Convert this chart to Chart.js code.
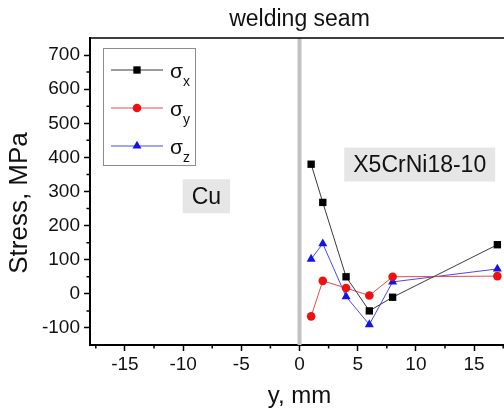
<!DOCTYPE html>
<html>
<head>
<meta charset="utf-8">
<script src="https://cdn.jsdelivr.net/npm/chart.js@4.4.0/dist/chart.umd.min.js"></script>
<style>
html, body { margin: 0; padding: 0; overflow: hidden; background: #fff; }
#wrap { width: 504px; height: 412px; overflow: hidden; }
canvas { display: block; }
</style>
</head>
<body>
<div id="wrap"><canvas id="chart" width="520" height="412"></canvas></div>
<script>
// Measured stresses (MPa) against distance from the seam (mm)
const positions = [1, 2, 4, 6, 8, 17];
const sigmaX = [380, 268, 50, -50, -10, 144];
const sigmaY = [-66, 38, 17, -5, 50, 52];
const sigmaZ = [102, 147, -8, -90, 35, 73];
const subscripts = ['x', 'y', 'z'];

// Axis ticks
const xTicks = [-15, -10, -5, 0, 5, 10, 15];
const xMinor = [-17.5, -12.5, -7.5, -2.5, 2.5, 7.5, 12.5, 17.5];
const yTicks = [-100, 0, 100, 200, 300, 400, 500, 600, 700];
const yMinor = [-50, 50, 150, 250, 350, 450, 550, 650];

// Text boxes (data coordinates)
const notes = [
    { text: 'Cu', x: -8, y: 286 },
    { text: 'X5CrNi18-10', x: 10.33, y: 379 }
];

const FONT = 'Arial, "Liberation Sans", sans-serif';

const styles = [
    { point: '#000', line: '#3a3a3a', shape: 'rect', r: 5.2 },
    { point: '#ee1111', line: '#e84848', shape: 'circle', r: 4.3 },
    { point: '#1414e6', line: '#4a4af0', shape: 'triangle', r: 5.2 }
];

const toPoints = vals => positions.map((p, i) => ({ x: p, y: vals[i] }));

const datasets = [sigmaX, sigmaY, sigmaZ].map((vals, i) => ({
    label: 'σ' + subscripts[i],
    data: toPoints(vals),
    borderColor: styles[i].line,
    borderWidth: 1,
    backgroundColor: styles[i].point,
    pointBackgroundColor: styles[i].point,
    pointBorderColor: styles[i].point,
    pointBorderWidth: 0,
    pointStyle: styles[i].shape,
    pointRadius: styles[i].r,
    tension: 0,
    order: 1
}));

// grey line marking the welding seam
datasets.push({
    label: 'seam',
    data: [{ x: 0, y: -150 }, { x: 0, y: 750 }],
    borderColor: '#c2c2c2',
    borderWidth: 4,
    pointRadius: 0,
    order: 5
});

const decor = {
    id: 'decor',
    beforeDatasetsDraw(chart) {
        const ctx = chart.ctx;
        const xs = chart.scales.x, ys = chart.scales.y;
        ctx.save();
        ctx.font = '23px ' + FONT;
        ctx.textAlign = 'center';
        ctx.textBaseline = 'middle';
        notes.forEach(n => {
            const px = xs.getPixelForValue(n.x);
            const py = ys.getPixelForValue(n.y);
            const w = ctx.measureText(n.text).width + 18;
            ctx.fillStyle = '#e6e6e6';
            ctx.fillRect(px - w / 2, py - 17, w, 34);
            ctx.fillStyle = '#111';
            ctx.fillText(n.text, px, py + 1);
        });
        ctx.restore();
    },
    afterDraw(chart) {
        const ctx = chart.ctx;
        const area = chart.chartArea;
        const xs = chart.scales.x, ys = chart.scales.y;
        ctx.save();

        // top frame line
        ctx.strokeStyle = '#000';
        ctx.lineWidth = 1.6;
        ctx.beginPath();
        ctx.moveTo(area.left, area.top);
        ctx.lineTo(area.right, area.top);
        ctx.stroke();

        // minor ticks
        ctx.lineWidth = 1.5;
        ctx.beginPath();
        xMinor.forEach(v => {
            const px = xs.getPixelForValue(v);
            ctx.moveTo(px, area.bottom);
            ctx.lineTo(px, area.bottom + 3.5);
        });
        yMinor.forEach(v => {
            const py = ys.getPixelForValue(v);
            ctx.moveTo(area.left, py);
            ctx.lineTo(area.left - 3.5, py);
        });
        ctx.stroke();

        // title above the seam
        ctx.fillStyle = '#111';
        ctx.font = '23px ' + FONT;
        ctx.textAlign = 'center';
        ctx.textBaseline = 'middle';
        ctx.fillText('welding seam', xs.getPixelForValue(0), 20);

        // y axis title (sits a little below the plot centre in the original)
        ctx.save();
        ctx.translate(20, 203);
        ctx.rotate(-Math.PI / 2);
        ctx.font = '26px ' + FONT;
        ctx.fillText('Stress, MPa', 0, 0);
        ctx.restore();

        // legend
        const lx = area.left + 13, ly = area.top + 10;
        ctx.strokeStyle = '#8c8c8c';
        ctx.lineWidth = 1;
        ctx.strokeRect(lx + 0.5, ly + 0.5, 92, 117);
        subscripts.forEach((s, i) => {
            const ds = chart.data.datasets[i];
            const cy = ly + 22 + i * 38;
            ctx.strokeStyle = ds.borderColor;
            ctx.lineWidth = 1;
            ctx.beginPath();
            ctx.moveTo(lx + 8, cy);
            ctx.lineTo(lx + 60, cy);
            ctx.stroke();
            ctx.fillStyle = ds.pointBackgroundColor;
            Chart.helpers.drawPoint(ctx, {
                pointStyle: ds.pointStyle, radius: ds.pointRadius, rotation: 0, borderWidth: 0
            }, lx + 34, cy);
            ctx.fillStyle = '#111';
            ctx.textAlign = 'left';
            ctx.textBaseline = 'alphabetic';
            ctx.font = '21px ' + FONT;
            ctx.fillText('σ', lx + 67, cy + 8);
            ctx.font = '14px ' + FONT;
            ctx.fillText(s, lx + 80, cy + 16);
        });
        ctx.restore();
    }
};

new Chart(document.getElementById('chart'), {
    type: 'line',
    data: { datasets },
    options: {
        responsive: false,
        animation: false,
        layout: { padding: { top: 38, right: 11, left: 0, bottom: 0 } },
        plugins: { legend: { display: false }, tooltip: { enabled: false } },
        scales: {
            x: {
                type: 'linear',
                min: -18,
                max: 18,
                afterBuildTicks: s => { s.ticks = xTicks.map(v => ({ value: v })); },
                afterFit: s => { s.height = 67; },
                grid: { drawOnChartArea: false, tickLength: 6, tickWidth: 1.5, tickColor: '#000' },
                border: { color: '#000', width: 2 },
                ticks: { color: '#111', font: { size: 19, family: FONT }, padding: 2, maxRotation: 0, autoSkip: false },
                title: { display: true, text: 'y, mm', color: '#111', font: { size: 24, family: FONT }, padding: { top: 0, bottom: 1 } }
            },
            y: {
                type: 'linear',
                min: -150,
                max: 750,
                afterBuildTicks: s => { s.ticks = yTicks.map(v => ({ value: v })); },
                afterFit: s => { s.width = 90; },
                grid: { drawOnChartArea: false, tickLength: 6, tickWidth: 1.5, tickColor: '#000' },
                border: { color: '#000', width: 2 },
                ticks: { color: '#111', font: { size: 19, family: FONT }, padding: 4 },
                title: { display: false }
            }
        }
    },
    plugins: [decor]
});
</script>
</body>
</html>
